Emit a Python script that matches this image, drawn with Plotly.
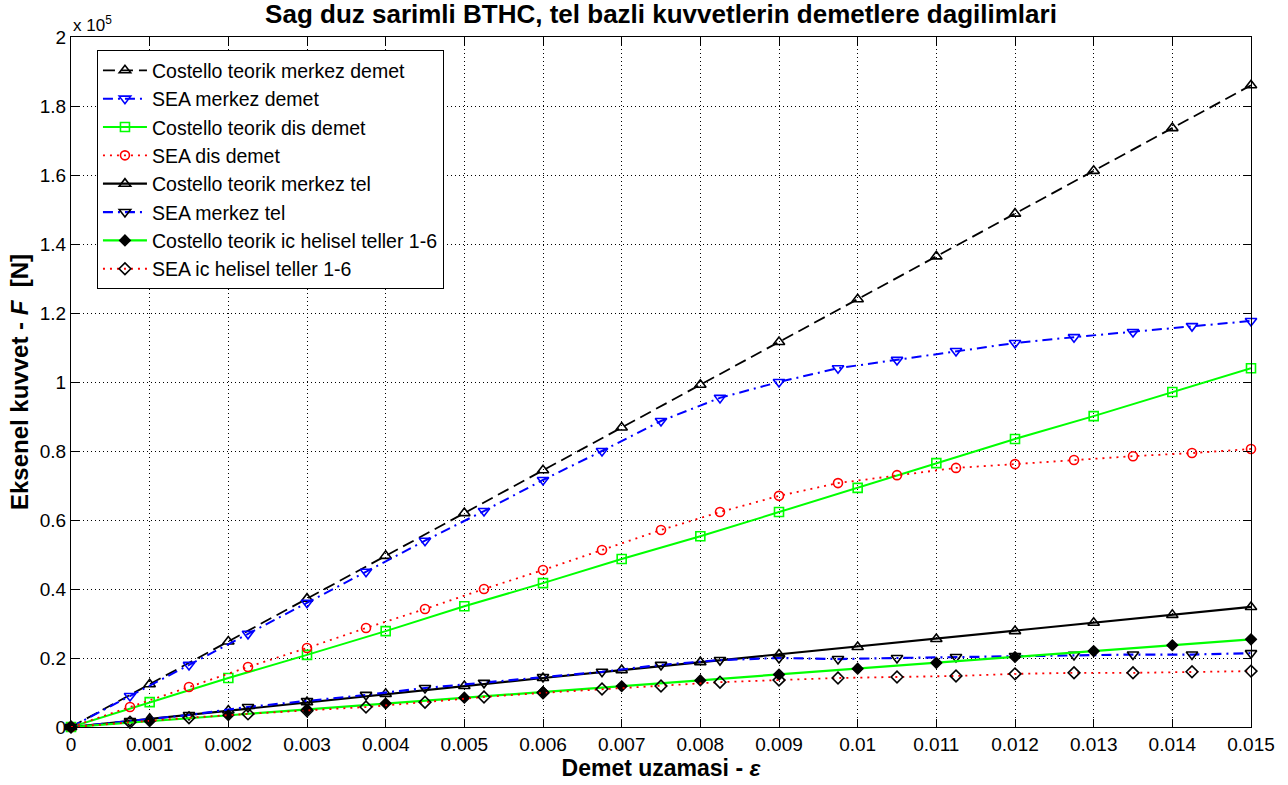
import plotly.graph_objects as go

# strain values
eps_cost = [i * 0.001 for i in range(16)]
eps_sea = [i * 0.00075 for i in range(21)]

# axial forces [N]
cost_merkez_demet = [0, 12400, 24800, 37200, 49600, 62000, 74400, 86800, 99200,
                     111600, 124000, 136400, 148800, 161200, 173600, 186000]
sea_merkez_demet = [0, 9000, 18000, 27000, 36000, 45000, 54000, 62600, 71600, 80000,
                    88700, 95400, 100000, 104000, 106400, 109000, 111300, 113000,
                    114500, 116200, 117700]
cost_dis_demet = [0, 7200, 14200, 20900, 27800, 35000, 41700, 48700, 55300, 62300,
                  69300, 76500, 83500, 90100, 97100, 104000]
sea_dis_demet = [0, 5800, 11600, 17400, 22900, 28700, 34200, 40000, 45500, 51300,
                 57100, 62300, 67000, 70700, 73000, 75100, 76200, 77400, 78500,
                 79400, 80600]
cost_merkez_tel = [0, 2400, 4800, 7200, 9600, 11900, 14200, 16500, 18800, 21000,
                   23200, 25500, 27800, 30200, 32500, 34800]
sea_merkez_tel = [0, 1700, 3500, 5800, 7500, 9300, 11300, 12800, 14500, 16000, 18000,
                  19400, 20000, 19700, 20000, 20300, 20600, 20900, 21000, 21000, 21400]
cost_ic_teller = [0, 1700, 3400, 5100, 6800, 8500, 10100, 11800, 13500, 15200,
                  16900, 18600, 20300, 22000, 23700, 25400]
sea_ic_teller = [0, 1400, 2700, 3800, 4700, 5800, 7200, 8700, 9900, 11000, 11900,
                 13000, 13600, 14200, 14500, 14800, 15400, 15700, 15700, 16000, 16200]

x_ticks = [i * 0.001 for i in range(16)]
x_ticktext = ["0"] + ["%g" % (i * 0.001) for i in range(1, 16)]
y_ticks = [i * 20000 for i in range(11)]
y_ticktext = ["0", "0.2", "0.4", "0.6", "0.8", "1", "1.2", "1.4", "1.6", "1.8", "2"]

BLUE = "rgb(0,0,255)"
GREEN = "rgb(0,255,0)"
RED = "rgb(255,0,0)"
BLACK = "rgb(0,0,0)"

DASH = "12px,6px"
DASHDOT = "10px,5px,2px,5px"
DOT = "2px,5px"

series = [
    ("Costello teorik merkez demet", eps_cost, cost_merkez_demet, BLACK, DASH, 1.8,
     "triangle-up-open", BLACK, 10),
    ("SEA merkez demet", eps_sea, sea_merkez_demet, BLUE, DASHDOT, 2,
     "triangle-down-open", BLUE, 10),
    ("Costello teorik dis demet", eps_cost, cost_dis_demet, GREEN, "solid", 2,
     "square-open", GREEN, 9),
    ("SEA dis demet", eps_sea, sea_dis_demet, RED, DOT, 1.8,
     "circle-open", RED, 9),
    ("Costello teorik merkez tel", eps_cost, cost_merkez_tel, BLACK, "solid", 2.2,
     "triangle-up-open", BLACK, 10),
    ("SEA merkez tel", eps_sea, sea_merkez_tel, BLUE, DASHDOT, 2.2,
     "triangle-down-open", BLACK, 10),
    ("Costello teorik ic helisel teller 1-6", eps_cost, cost_ic_teller, GREEN, "solid", 2.2,
     "diamond", BLACK, 8),
    ("SEA ic helisel teller 1-6", eps_sea, sea_ic_teller, RED, DOT, 1.8,
     "diamond-open", BLACK, 9),
]

fig = go.Figure()
for name, xs, ys, lc, dash, lw, sym, mc, ms in series:
    fig.add_trace(go.Scatter(
        x=xs, y=ys, name=name, mode="lines+markers",
        line=dict(color=lc, dash=dash, width=lw),
        marker=dict(symbol=sym, color=mc, size=ms, line=dict(color=mc, width=1.6)),
        cliponaxis=False,
    ))

FONT = "Liberation Sans, Arial, Helvetica, sans-serif"

fig.update_layout(
    width=1288, height=785,
    margin=dict(l=71, r=37, t=37, b=58),
    paper_bgcolor="white", plot_bgcolor="white",
    font=dict(family=FONT, size=19, color="black"),
    title=dict(text="<b>Sag duz sarimli BTHC, tel bazli kuvvetlerin demetlere dagilimlari</b>",
               x=0.5, xref="paper", y=1 - 14 / 785, yref="container", yanchor="middle",
               font=dict(size=26, family=FONT)),
    showlegend=True,
    legend=dict(x=0.022, y=0.981, xanchor="left", yanchor="top",
                bgcolor="white", bordercolor="black", borderwidth=1,
                font=dict(size=19.5, family=FONT), tracegroupgap=0,
                itemwidth=44),
    xaxis=dict(range=[0, 0.015], tickvals=x_ticks, ticktext=x_ticktext,
               showline=True, mirror="ticks", linecolor="black", linewidth=1,
               ticks="inside", ticklen=8, tickcolor="black",
               showgrid=True, gridcolor="black", griddash="1px,3px", gridwidth=1,
               zeroline=False, tickfont=dict(size=19), automargin=False,
               title=dict(text="<b>Demet uzamasi - <i>ε</i></b>", font=dict(size=23),
                          standoff=0)),
    yaxis=dict(range=[0, 200000], tickvals=y_ticks, ticktext=y_ticktext,
               showline=True, mirror="ticks", linecolor="black", linewidth=1,
               ticks="inside", ticklen=8, tickcolor="black",
               showgrid=True, gridcolor="black", griddash="1px,3px", gridwidth=1,
               zeroline=False, tickfont=dict(size=19), automargin=False,
               title=dict(text="<b>Eksenel kuvvet - <i>F</i>  [N]</b>", font=dict(size=24),
                          standoff=4)),
)

fig.add_annotation(text="x 10<sup>5</sup>", xref="paper", yref="paper",
                   x=0.0, y=1.0, xanchor="left", yanchor="bottom", showarrow=False,
                   font=dict(size=17, family=FONT), yshift=0)

fig.write_html("out.html", config={"displayModeBar": False},
               post_script="document.body.style.margin='0';")
